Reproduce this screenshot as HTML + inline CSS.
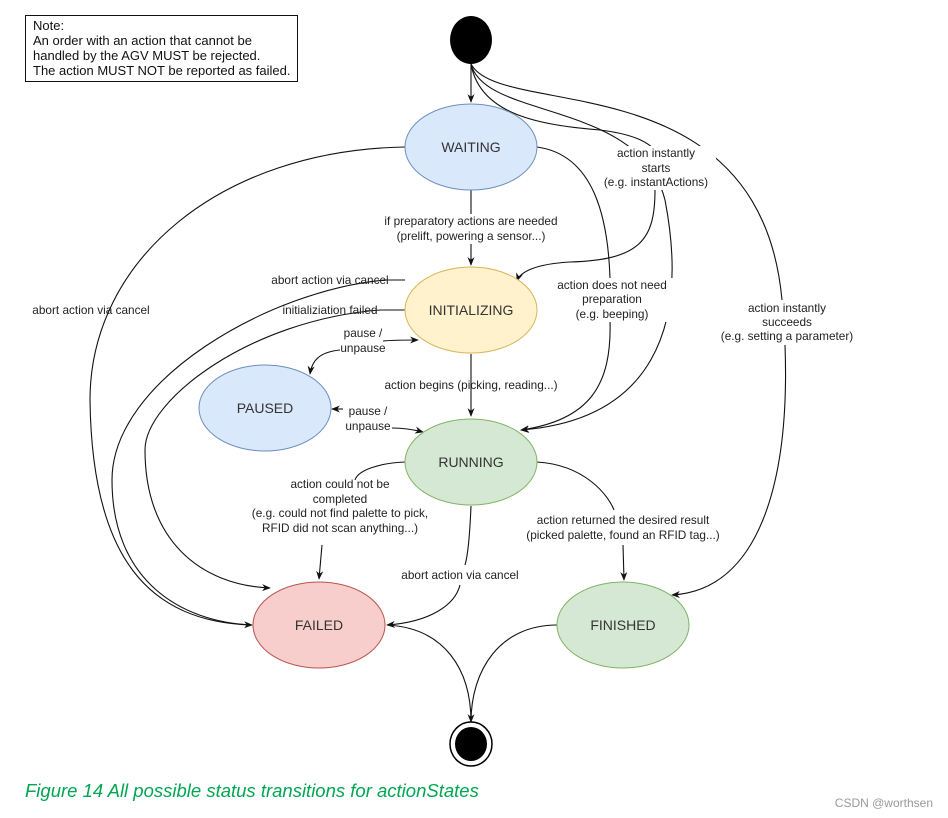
<!DOCTYPE html>
<html><head><meta charset="utf-8"><style>
body{margin:0;background:#fff;}
svg{display:block;font-family:"Liberation Sans",Arial,sans-serif;}
.l{font-size:11.8px;fill:#222;text-anchor:middle;}
.n{font-size:14px;fill:#333;text-anchor:middle;}
.e{fill:none;stroke:#111;stroke-width:1.1;}
.bg{fill:#fff;}
</style></head><body>
<svg width="948" height="818" viewBox="0 0 948 818">
<defs><marker id="a" viewBox="0 0 10 10" refX="9" refY="5" markerWidth="8" markerHeight="8" orient="auto-start-reverse"><path d="M0,1 L10,5 L0,9 L3,5z" fill="#111"/></marker></defs>
<rect x="25.5" y="15.5" width="272" height="66" fill="#fff" stroke="#111"/>
<text x="33" y="30" font-size="13" fill="#111">Note:</text>
<text x="33" y="45" font-size="13" fill="#111">An order with an action that cannot be</text>
<text x="33" y="60" font-size="13" fill="#111">handled by the AGV MUST be rejected.</text>
<text x="33" y="75" font-size="13" fill="#111">The action MUST NOT be reported as failed.</text>

<!-- edges -->
<path class="e" d="M471,64 L471,102" marker-end="url(#a)"/>
<path class="e" d="M471,64 C480,115 540,125 600,130 C640,135 650,145 655,150"/>
<path class="e" d="M655,190 C655,240 640,260 570,262 C535,264 520,272 517,281" marker-end="url(#a)"/>
<path class="e" d="M471,64 C485,120 640,100 665,200 C690,330 650,420 521,430" marker-end="url(#a)"/>
<path class="e" d="M471,64 C500,120 760,60 782,300"/>
<path class="e" d="M785,345 C790,480 760,590 672,595" marker-end="url(#a)"/>
<path class="e" d="M537,147 C595,155 608,220 610,278"/>
<path class="e" d="M610,320 C612,385 590,420 521,430" marker-end="url(#a)"/>
<path class="e" d="M471,190 L471,265" marker-end="url(#a)"/>
<path class="e" d="M405,147 C220,150 90,260 90,400 C92,560 150,622 252,625" marker-end="url(#a)"/>
<path class="e" d="M405,280 L385,280 C270,290 112,380 112,480 C112,580 180,622 252,625"/>
<path class="e" d="M405,310 L380,310 C250,320 145,400 145,450 C145,540 200,585 270,588" marker-end="url(#a)"/>
<path class="e" d="M383,341 C395,340 405,340 418,340" marker-end="url(#a)"/>
<path class="e" d="M340,350 C320,352 312,360 310,374" marker-end="url(#a)"/>
<path class="e" d="M343,409 L332,409" marker-end="url(#a)"/>
<path class="e" d="M392,428 C405,428 415,430 423,432" marker-end="url(#a)"/>
<path class="e" d="M471,354 L471,416" marker-end="url(#a)"/>
<path class="e" d="M405,462 C380,463 358,470 355,480"/>
<path class="e" d="M322,545 L319,579" marker-end="url(#a)"/>
<path class="e" d="M471,506 C470,530 468,555 465,565"/>
<path class="e" d="M460,585 C455,605 430,622 387,625" marker-end="url(#a)"/>
<path class="e" d="M537,462 C585,465 608,495 614,510"/>
<path class="e" d="M623,545 L624,580" marker-end="url(#a)"/>
<path class="e" d="M387,625 C445,628 471,670 471,722" marker-end="url(#a)"/>
<path class="e" d="M557,625 C500,625 471,670 471,722"/>

<!-- nodes -->
<ellipse cx="471" cy="40" rx="21" ry="24" fill="#000"/>
<ellipse cx="471" cy="147" rx="66" ry="43" fill="#dae8fc" stroke="#6c8ebf"/>
<text class="n" x="471" y="152">WAITING</text>
<ellipse cx="471" cy="310" rx="66" ry="43" fill="#fff2cc" stroke="#d6b656"/>
<text class="n" x="471" y="315">INITIALIZING</text>
<ellipse cx="265" cy="408" rx="66" ry="43" fill="#dae8fc" stroke="#6c8ebf"/>
<text class="n" x="265" y="413">PAUSED</text>
<ellipse cx="471" cy="462" rx="66" ry="43" fill="#d5e8d4" stroke="#82b366"/>
<text class="n" x="471" y="467">RUNNING</text>
<ellipse cx="319" cy="625" rx="66" ry="43" fill="#f8cecc" stroke="#b85450"/>
<text class="n" x="319" y="630">FAILED</text>
<ellipse cx="623" cy="625" rx="66" ry="43" fill="#d5e8d4" stroke="#82b366"/>
<text class="n" x="623" y="630">FINISHED</text>
<ellipse cx="471" cy="744" rx="21" ry="22" fill="#fff" stroke="#000" stroke-width="1.5"/>
<ellipse cx="471" cy="744" rx="16" ry="17" fill="#000"/>

<!-- labels -->
<g>
<rect class="bg" x="596" y="146" width="120" height="44"/>
<text class="l" x="656" y="157">action instantly</text>
<text class="l" x="656" y="172">starts</text>
<text class="l" x="656" y="186">(e.g. instantActions)</text>
<rect class="bg" x="372" y="214" width="198" height="30"/>
<text class="l" x="471" y="225">if preparatory actions are needed</text>
<text class="l" x="471" y="240">(prelift, powering a sensor...)</text>
<rect class="bg" x="550" y="278" width="124" height="44"/>
<text class="l" x="612" y="289">action does not need</text>
<text class="l" x="612" y="303">preparation</text>
<text class="l" x="612" y="318">(e.g. beeping)</text>
<rect class="bg" x="710" y="300" width="154" height="44"/>
<text class="l" x="787" y="312">action instantly</text>
<text class="l" x="787" y="326">succeeds</text>
<text class="l" x="787" y="340">(e.g. setting a parameter)</text>
<text class="l" x="91" y="314">abort action via cancel</text>
<text class="l" x="330" y="284">abort action via cancel</text>
<text class="l" x="330" y="314">initializiation failed</text>
<text class="l" x="363" y="337">pause /</text>
<text class="l" x="363" y="352">unpause</text>
<text class="l" x="471" y="389">action begins (picking, reading...)</text>
<text class="l" x="368" y="415">pause /</text>
<text class="l" x="368" y="430">unpause</text>
<text class="l" x="340" y="488">action could not be</text>
<text class="l" x="340" y="503">completed</text>
<text class="l" x="340" y="517">(e.g. could not find palette to pick,</text>
<text class="l" x="340" y="532">RFID did not scan anything...)</text>
<rect class="bg" x="520" y="512" width="206" height="32"/>
<text class="l" x="623" y="524">action returned the desired result</text>
<text class="l" x="623" y="539">(picked palette, found an RFID tag...)</text>
<rect class="bg" x="396" y="567" width="130" height="14"/>
<text class="l" x="460" y="579">abort action via cancel</text>
</g>
<text x="25" y="797" font-size="18.5" font-style="italic" fill="#00a651">Figure 14  All possible status transitions for actionStates</text>
<text x="933" y="807" font-size="12" fill="#999" text-anchor="end">CSDN @worthsen</text>
</svg>
</body></html>
